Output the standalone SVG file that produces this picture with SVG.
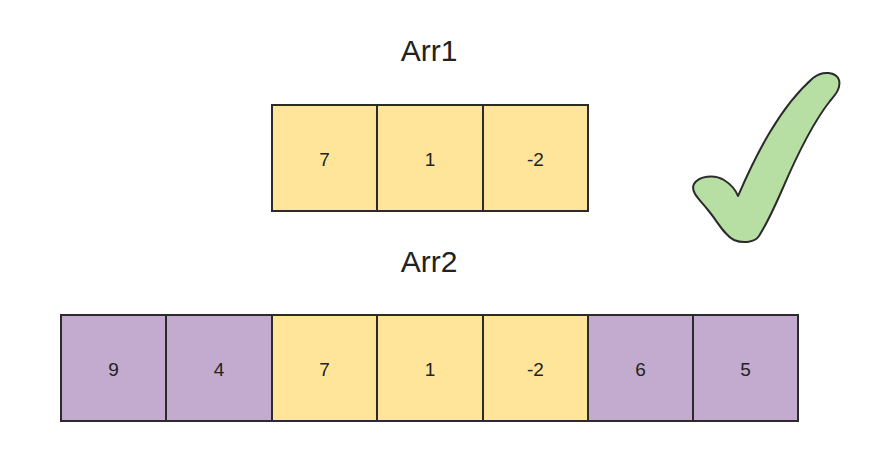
<svg xmlns="http://www.w3.org/2000/svg" width="880" height="462" viewBox="0 0 880 462">
<style>
.y{fill:#FFE59A;stroke:#2b2b2b;stroke-width:2}
.p{fill:#C3AACF;stroke:#2b2b2b;stroke-width:2}
.t{font-family:"Liberation Sans",Arial,sans-serif;font-size:19px;fill:#222;text-anchor:middle}
.h{font-family:"Liberation Sans",Arial,sans-serif;font-size:30px;fill:#222;text-anchor:middle}
</style>
<rect width="880" height="462" fill="#fff"/>
<text class="h" x="429" y="61">Arr1</text>
<text class="h" x="429" y="272">Arr2</text>
<g id="arr1">
<g id="a1-0"><rect class="y" x="272" y="105" width="105" height="106"/><text class="t" x="324.5" y="166">7</text></g>
<g id="a1-1"><rect class="y" x="377" y="105" width="106" height="106"/><text class="t" x="430" y="166">1</text></g>
<g id="a1-2"><rect class="y" x="483" y="105" width="105" height="106"/><text class="t" x="535.5" y="166">-2</text></g>
</g>
<g id="arr2">
<g id="a2-0"><rect class="p" x="61" y="315" width="105" height="106"/><text class="t" x="113.5" y="376">9</text></g>
<g id="a2-1"><rect class="p" x="166" y="315" width="106" height="106"/><text class="t" x="219" y="376">4</text></g>
<g id="a2-2"><rect class="y" x="272" y="315" width="105" height="106"/><text class="t" x="324.5" y="376">7</text></g>
<g id="a2-3"><rect class="y" x="377" y="315" width="106" height="106"/><text class="t" x="430" y="376">1</text></g>
<g id="a2-4"><rect class="y" x="483" y="315" width="105" height="106"/><text class="t" x="535.5" y="376">-2</text></g>
<g id="a2-5"><rect class="p" x="588" y="315" width="105" height="106"/><text class="t" x="640.5" y="376">6</text></g>
<g id="a2-6"><rect class="p" x="693" y="315" width="105" height="106"/><text class="t" x="745.5" y="376">5</text></g>
</g>
<g id="check">
<path d="M813,78 C823,70 836,72 839,80 C841,88 836,94 830,101 C815,120 797,155 782,190 C772,213 764,228 759,236 C755,242 744,244 734,240 C724,235 718,222 708,210 C700,200 690,192 694,184 C699,176 714,174 724,180 C732,185 736,191 738,196 C745,180 755,157 770,132 C782,112 797,92 813,78 Z" fill="#B8DFA3" stroke="#2b2b2b" stroke-width="2" stroke-linejoin="round"/>
</g>
<g id="connectors"/>
</svg>
